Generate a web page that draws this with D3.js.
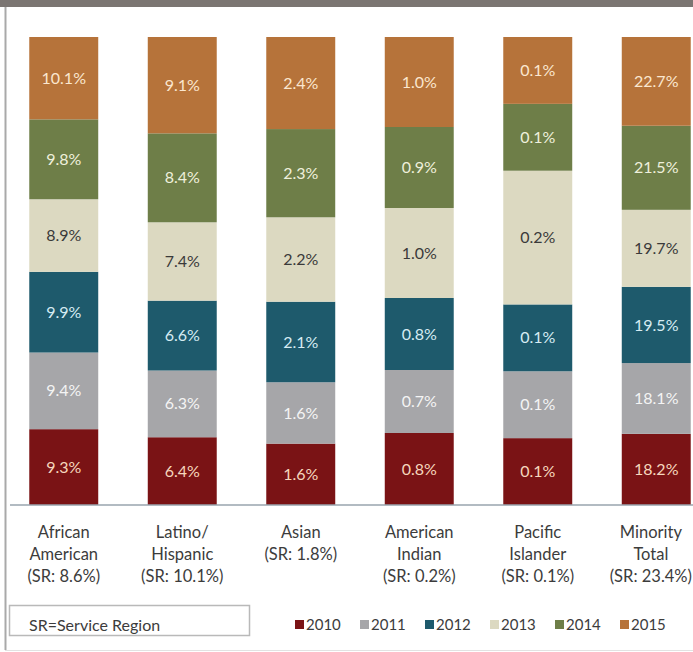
<!DOCTYPE html>
<html>
<head>
<meta charset="utf-8">
<script src="https://cdn.jsdelivr.net/npm/d3@7"></script>
<style>
  html, body { margin: 0; padding: 0; background: #ffffff; }
  svg { display: block; font-family: Lato, "Open Sans", sans-serif; }
</style>
</head>
<body>
<svg id="chart" width="693" height="652"></svg>
<script>
// Category names (one array entry per label line) and service-region shares
const categories = ["African American", "Latino/ Hispanic", "Asian", "American Indian", "Pacific Islander", "Minority Total"];
const categoryLines = [
  ["African", "American"],
  ["Latino/", "Hispanic"],
  ["Asian"],
  ["American", "Indian"],
  ["Pacific", "Islander"],
  ["Minority", "Total"]
];
const srShares = ["8.6%", "10.1%", "1.8%", "0.2%", "0.1%", "23.4%"];

// Yearly values (percent) per category
const years = ["2010", "2011", "2012", "2013", "2014", "2015"];
const v2010 = [9.3, 6.4, 1.6, 0.8, 0.1, 18.2];
const v2011 = [9.4, 6.3, 1.6, 0.7, 0.1, 18.1];
const v2012 = [9.9, 6.6, 2.1, 0.8, 0.1, 19.5];
const v2013 = [8.9, 7.4, 2.2, 1.0, 0.2, 19.7];
const v2014 = [9.8, 8.4, 2.3, 0.9, 0.1, 21.5];
const v2015 = [10.1, 9.1, 2.4, 1.0, 0.1, 22.7];
const seriesValues = [v2010, v2011, v2012, v2013, v2014, v2015];

const fillColors  = ["#7a1315", "#a6a6a9", "#1e5a6c", "#dcd9c1", "#6e7e48", "#b6733a"];
const labelColors = ["#f6d7bd", "#f4f4f4", "#d6ecf3", "#3a3a3a", "#eef0dc", "#fbe7cf"];

// Rows for d3.stack
const rows = categories.map((c, i) => {
  const r = { category: c };
  years.forEach((y, k) => { r[y] = seriesValues[k][i]; });
  return r;
});

const svg = d3.select("#chart");
const W = 693, H = 652;

// Frame: dark band on top, left rule, faint bottom rule
svg.append("rect").attr("x", 0).attr("y", 0).attr("width", W).attr("height", 7).attr("fill", "#7b7572");
svg.append("line").attr("x1", 5.5).attr("x2", 5.5).attr("y1", 7).attr("y2", 650)
  .attr("stroke", "#a9a9a9").attr("stroke-width", 2);
svg.append("line").attr("x1", 5).attr("x2", W).attr("y1", 650.5).attr("y2", 650.5)
  .attr("stroke", "#e2e2e2").attr("stroke-width", 1);

const x = d3.scaleBand()
  .domain(categories)
  .range([4.5, 715.5])
  .paddingInner(0.418)
  .paddingOuter(0.209);

const y = d3.scaleLinear().domain([0, 1]).range([505, 37]);

const stack = d3.stack().keys(years).offset(d3.stackOffsetExpand);
const layers = stack(rows);

const g = svg.append("g");
const layerG = g.selectAll("g.layer")
  .data(layers)
  .join("g")
  .attr("class", "layer")
  .attr("fill", (d, i) => fillColors[i]);

layerG.selectAll("rect")
  .data(d => d)
  .join("rect")
  .attr("x", d => x(d.data.category))
  .attr("width", x.bandwidth())
  .attr("y", d => y(d[1]))
  .attr("height", d => y(d[0]) - y(d[1]));

// Value labels centred in each segment
layers.forEach((layer, k) => {
  g.append("g")
    .selectAll("text")
    .data(layer)
    .join("text")
    .attr("x", d => x(d.data.category) + x.bandwidth() / 2)
    .attr("y", d => (y(d[0]) + y(d[1])) / 2)
    .attr("dy", "0.35em")
    .attr("text-anchor", "middle")
    .attr("font-size", 16)
    .attr("fill", labelColors[k])
    .text(d => d.data[years[k]].toFixed(1) + "%");
});

// Baseline
svg.append("line").attr("x1", 10).attr("x2", W).attr("y1", 505).attr("y2", 505)
  .attr("stroke", "#98a4ae").attr("stroke-width", 1.5);

// Category labels (kept inside the right edge)
const catG = svg.append("g").attr("fill", "#3c3c3c").attr("font-size", 16.5).attr("text-anchor", "middle");
categories.forEach((c, i) => {
  const lines = categoryLines[i].concat(["(SR: " + srShares[i] + ")"]);
  let cx = x(c) + x.bandwidth() / 2;
  const t = catG.append("text").attr("y", 538);
  const spans = lines.map((ln, j) =>
    t.append("tspan").attr("y", 538 + j * 22).text(ln));
  spans.forEach(s => s.attr("x", cx));
  const box = t.node().getBBox();
  const overflow = box.x + box.width - (W - 1);
  if (overflow > 0) {
    cx -= overflow;
    spans.forEach(s => s.attr("x", cx));
  }
});

// Note box
svg.append("rect").attr("x", 9.5).attr("y", 605.5).attr("width", 240).attr("height", 30)
  .attr("fill", "#ffffff").attr("stroke", "#b9b9b9").attr("stroke-width", 1.5);
svg.append("text").attr("x", 29).attr("y", 631).attr("font-size", 16).attr("fill", "#3c3c3c")
  .text("SR=Service Region");

// Legend
const legend = svg.append("g").attr("font-size", 15).attr("fill", "#3c3c3c");
years.forEach((yr, i) => {
  const lx = 295 + i * 65;
  legend.append("rect").attr("x", lx).attr("y", 620).attr("width", 9).attr("height", 9).attr("fill", fillColors[i]);
  legend.append("text").attr("x", lx + 11).attr("y", 630).text(yr);
});
</script>
</body>
</html>
